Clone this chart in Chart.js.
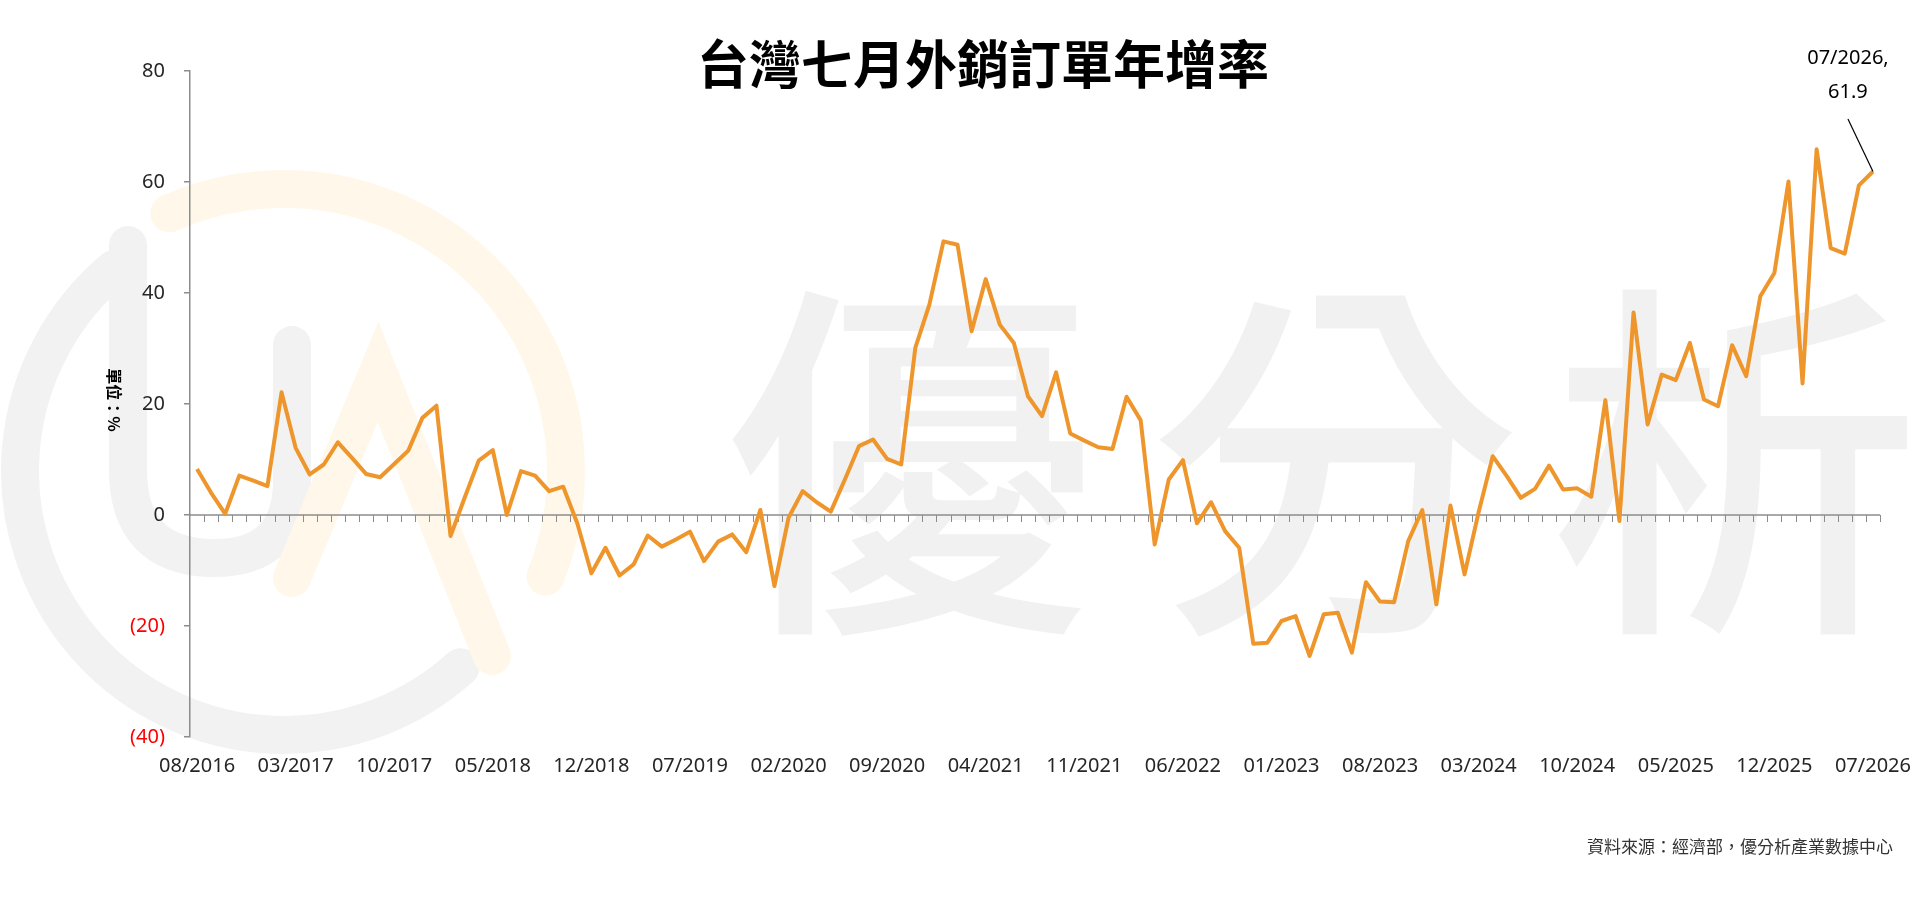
<!DOCTYPE html>
<html>
<head>
<meta charset="utf-8">
<script src="https://cdn.jsdelivr.net/npm/chart.js"></script>
<style>
  html, body { margin: 0; padding: 0; background: #fff; }
  #wrap { width: 1920px; height: 902px; }
</style>
</head>
<body>
<div id="wrap"><canvas id="chart" width="1920" height="902"></canvas></div>
<script>
// months 08/2016 .. 07/2026
const months = [
  '08/2016','09/2016','10/2016','11/2016','12/2016',
  '01/2017','02/2017','03/2017','04/2017','05/2017','06/2017','07/2017','08/2017','09/2017','10/2017','11/2017','12/2017',
  '01/2018','02/2018','03/2018','04/2018','05/2018','06/2018','07/2018','08/2018','09/2018','10/2018','11/2018','12/2018',
  '01/2019','02/2019','03/2019','04/2019','05/2019','06/2019','07/2019','08/2019','09/2019','10/2019','11/2019','12/2019',
  '01/2020','02/2020','03/2020','04/2020','05/2020','06/2020','07/2020','08/2020','09/2020','10/2020','11/2020','12/2020',
  '01/2021','02/2021','03/2021','04/2021','05/2021','06/2021','07/2021','08/2021','09/2021','10/2021','11/2021','12/2021',
  '01/2022','02/2022','03/2022','04/2022','05/2022','06/2022','07/2022','08/2022','09/2022','10/2022','11/2022','12/2022',
  '01/2023','02/2023','03/2023','04/2023','05/2023','06/2023','07/2023','08/2023','09/2023','10/2023','11/2023','12/2023',
  '01/2024','02/2024','03/2024','04/2024','05/2024','06/2024','07/2024','08/2024','09/2024','10/2024','11/2024','12/2024',
  '01/2025','02/2025','03/2025','04/2025','05/2025','06/2025','07/2025','08/2025','09/2025','10/2025','11/2025','12/2025',
  '01/2026','02/2026','03/2026','04/2026','05/2026','06/2026','07/2026'
];

// 外銷訂單年增率 (%)
const growth = [
  8.3, 4.0, 0.2, 7.1, 6.2,
  5.2, 22.1, 12.1, 7.3, 9.1, 13.1, 10.3, 7.4, 6.8, 9.2, 11.6, 17.5,
  19.7, -3.8, 3.1, 9.8, 11.7, 0.0, 7.9, 7.1, 4.3, 5.1, -1.5, -10.5,
  -5.9, -10.9, -8.9, -3.7, -5.7, -4.4, -3.0, -8.3, -4.8, -3.5, -6.7, 0.9,
  -12.8, -0.5, 4.3, 2.3, 0.6, 6.4, 12.4, 13.6, 10.1, 9.1, 30.1, 37.9,
  49.3, 48.7, 33.1, 42.5, 34.3, 31.0, 21.4, 17.8, 25.7, 14.7, 13.4, 12.2,
  11.9, 21.3, 17.1, -5.3, 6.4, 9.9, -1.5, 2.3, -2.9, -5.9, -23.2, -23.0,
  -19.1, -18.2, -25.4, -17.9, -17.6, -24.8, -12.1, -15.6, -15.7, -4.7, 0.9, -16.1,
  1.7, -10.7, 0.5, 10.6, 7.0, 3.1, 4.7, 8.9, 4.6, 4.8, 3.3, 20.7,
  -1.1, 36.5, 16.3, 25.3, 24.3, 31.0, 20.8, 19.6, 30.6, 25.0, 39.4, 43.6,
  60.1, 23.7, 65.9, 48.1, 47.1, 59.4, 61.9
];

const yTicks = [80, 60, 40, 20, 0, -20, -40];
const labelEvery = 7;

const titleText = '台灣七月外銷訂單年增率';
const unitText = '單位：%';
const sourceText = '資料來源：經濟部，優分析產業數據中心';
const lastNote = ['07/2026,', '61.9'];

const LINE = '#EE962C';
const AXIS = '#8c8c8c';
const TXT = '#262626';

// faint logo + 優分析 watermark behind the chart
const watermark = {
  id: 'watermark',
  beforeDraw(chart) {
    const c = chart.ctx;
    const d = Math.PI / 180;
    c.save();
    c.lineCap = 'round';
    // grey part of the ring
    c.strokeStyle = '#f2f2f2';
    c.lineWidth = 38;
    c.beginPath();
    c.arc(284, 471, 264, 230 * d, 48 * d, true);
    c.stroke();
    // U
    c.beginPath();
    c.moveTo(128, 245);
    c.lineTo(128, 470);
    c.quadraticCurveTo(128, 555, 210, 558);
    c.quadraticCurveTo(292, 560, 292, 480);
    c.lineTo(292, 345);
    c.stroke();
    // yellow part of the ring
    c.strokeStyle = '#fff8ea';
    c.beginPath();
    c.arc(284, 471, 282, 246 * d, 22 * d, false);
    c.stroke();
    // A
    c.beginPath();
    c.moveTo(292, 578);
    c.lineTo(378, 372);
    c.lineTo(492, 656);
    c.stroke();
    // 優分析
    c.fillStyle = '#f1f1f1';
    c.font = '500 372px "Noto Sans CJK TC"';
    c.textAlign = 'center';
    c.textBaseline = 'middle';
    c.fillText('優', 910, 462);
    c.fillText('分', 1335, 462);
    c.fillText('析', 1735, 462);
    c.restore();
  }
};

// zero line with month ticks
const zeroAxis = {
  id: 'zeroAxis',
  beforeDatasetsDraw(chart) {
    const c = chart.ctx;
    const x = chart.scales.x, y = chart.scales.y;
    const y0 = y.getPixelForValue(0);
    const half = (x.getPixelForValue(1) - x.getPixelForValue(0)) / 2;
    c.save();
    c.strokeStyle = AXIS;
    c.lineWidth = 1.5;
    c.beginPath();
    c.moveTo(chart.chartArea.left, y0);
    c.lineTo(chart.chartArea.right, y0);
    c.stroke();
    c.lineWidth = 1;
    c.beginPath();
    for (let i = 0; i < months.length; i++) {
      const px = Math.round(x.getPixelForValue(i) + half) + 0.5;
      c.moveTo(px, y0);
      c.lineTo(px, y0 + 7);
    }
    c.stroke();
    c.restore();
  }
};

// title, unit, source and last point note
const texts = {
  id: 'texts',
  afterDraw(chart) {
    const c = chart.ctx;
    const x = chart.scales.x, y = chart.scales.y;
    c.save();
    c.fillStyle = '#000';
    c.textAlign = 'center';
    c.textBaseline = 'middle';
    c.font = 'bold 52px "Noto Sans CJK TC"';
    c.fillText(titleText, 983, 64);

    c.save();
    c.translate(114, 400);
    c.rotate(Math.PI / 2);
    c.font = 'bold 16px "Noto Sans CJK TC"';
    c.fillText(unitText, 0, 0);
    c.restore();

    c.fillStyle = '#333';
    c.textAlign = 'right';
    c.font = '17px "Noto Sans CJK TC"';
    c.fillText(sourceText, 1893, 847);

    const last = growth.length - 1;
    const px = x.getPixelForValue(last), py = y.getPixelForValue(growth[last]);
    c.fillStyle = '#000';
    c.textAlign = 'center';
    c.font = '20px "Noto Sans"';
    c.fillText(lastNote[0], px - 25, 58);
    c.fillText(lastNote[1], px - 25, 92);
    c.strokeStyle = '#000';
    c.lineWidth = 1.2;
    c.beginPath();
    c.moveTo(px - 25, 119);
    c.lineTo(px, py);
    c.stroke();
    c.restore();
  }
};

new Chart(document.getElementById('chart'), {
  type: 'line',
  data: {
    labels: months,
    datasets: [{
      data: growth,
      borderColor: LINE,
      borderWidth: 4,
      pointRadius: 0,
      tension: 0,
      borderJoinStyle: 'round',
      clip: false
    }]
  },
  options: {
    responsive: false,
    animation: false,
    devicePixelRatio: 1,
    layout: { padding: { left: 0, right: 40, top: 71, bottom: 0 } },
    plugins: { legend: { display: false }, tooltip: { enabled: false } },
    scales: {
      x: {
        type: 'category',
        offset: true,
        grid: { display: false, drawTicks: false },
        border: { display: false },
        ticks: {
          autoSkip: false,
          maxRotation: 0,
          padding: 17,
          color: TXT,
          font: { family: 'Noto Sans', size: 20 },
          callback: (v, i) => (i % labelEvery === 0 ? months[i] : '')
        },
        afterFit: s => { s.height = 165; s.paddingLeft = 0; s.paddingRight = 0; }
      },
      y: {
        min: -40,
        max: 80,
        afterBuildTicks: s => { s.ticks = yTicks.map(v => ({ value: v })); },
        grid: { drawOnChartArea: false, drawTicks: true, tickLength: 6, color: AXIS, lineWidth: 1.5 },
        border: { display: true, color: AXIS, width: 1.5 },
        ticks: {
          padding: 19,
          font: { family: 'Noto Sans', size: 20 },
          color: ctx => (ctx.tick.value < 0 ? '#ff0000' : TXT),
          callback: v => (v < 0 ? '(' + Math.abs(v) + ')' : String(v))
        },
        afterFit: s => { s.width = 190; s.paddingTop = 0; s.paddingBottom = 0; }
      }
    }
  },
  plugins: [watermark, zeroAxis, texts]
});
</script>
</body>
</html>
